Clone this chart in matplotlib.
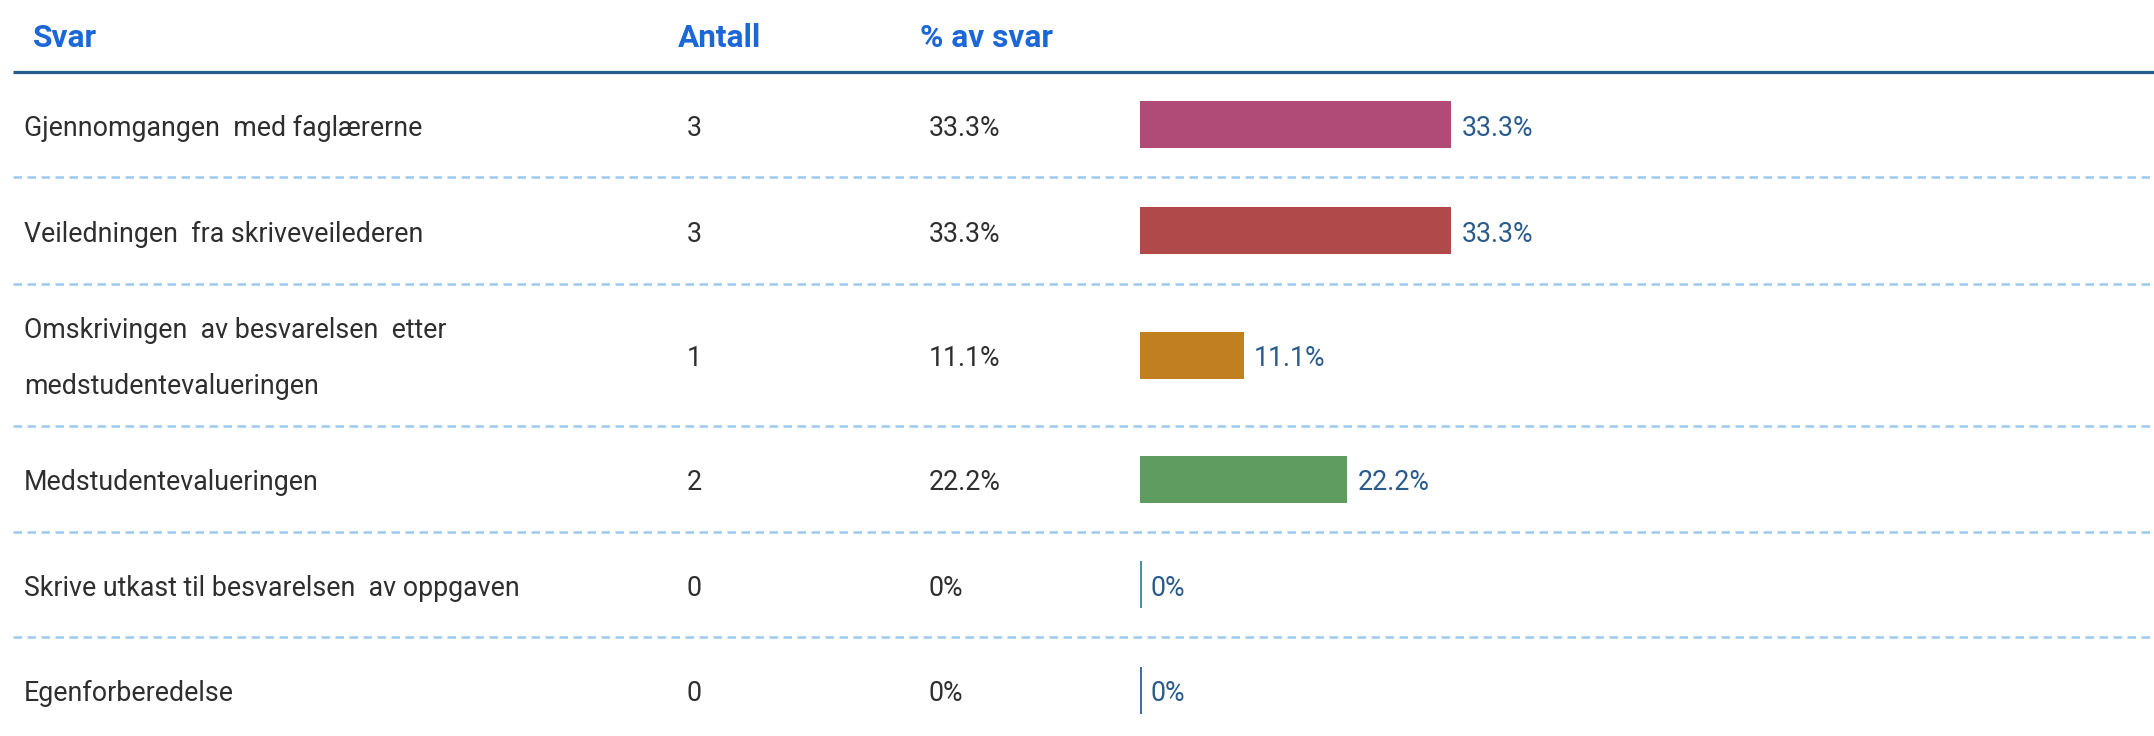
import matplotlib
matplotlib.use('Agg')
import matplotlib.pyplot as plt


# Data
answers = [
    'Gjennomgangen  med faglærerne',
    'Veiledningen  fra skriveveilederen',
    'Omskrivingen  av besvarelsen  etter\nmedstudentevalueringen',
    'Medstudentevalueringen',
    'Skrive utkast til besvarelsen  av oppgaven',
    'Egenforberedelse',
]
counts = [3, 3, 1, 2, 0, 0]
percents = [33.3, 33.3, 11.1, 22.2, 0, 0]
percent_labels = ['33.3%', '33.3%', '11.1%', '22.2%', '0%', '0%']
headers = ['Svar', 'Antall', '% av svar']

# Styling
bar_colors = ['#b04b78', '#b04a4a', '#c0801f', '#5f9c5f', '#3d8eb3', '#3b6aa9']
header_color = '#1c67d8'
rule_color = '#255a8e'
dash_color = '#9fcaf0'
text_color = '#2e2e2e'
value_color = '#2a5b8c'

W, H = 2154, 736
row_heights = [105, 107, 142, 106, 105, 106]
top = 72
bar_h = 47
bar_left = 1140
px_per_pct = 9.34
fs = 19.3
line_gap = 57

plt.rcParams['font.family'] = ['Roboto', 'DejaVu Sans']

fig = plt.figure(figsize=(W / 100, H / 100), dpi=100)
ax = fig.add_axes([0, 0, 1, 1])
ax.set_xlim(0, W)
ax.set_ylim(H, 0)
ax.axis('off')

# header
for txt, x in zip(headers, [33, 678, 920]):
    ax.text(x, 47, txt, fontsize=22.8, fontweight='bold', color=header_color,
            va='baseline', ha='left')
ax.plot([13, W], [72, 72], color=rule_color, lw=2.3, solid_capstyle='butt')

# row positions
centers = []
y = top
for rh in row_heights:
    centers.append(y + rh / 2)
    y += rh
    if y < H:
        ax.plot([13, W], [y, y], color=dash_color, lw=1.8,
                dashes=(3.4, 2.2))

for i, c in enumerate(centers):
    base = c + 11
    lines = answers[i].split('\n')
    first = base - line_gap * (len(lines) - 1) / 2
    for k, line in enumerate(lines):
        ax.text(24, first + k * line_gap, line, fontsize=fs, color=text_color,
                va='baseline', ha='left')
    ax.text(687, base, str(counts[i]), fontsize=fs, color=text_color,
            va='baseline', ha='left')
    ax.text(929, base, percent_labels[i], fontsize=fs, color=text_color,
            va='baseline', ha='left')

# bars in their own axes, x in percent
bax = fig.add_axes([bar_left / W, 0, 100 * px_per_pct / W, 1])
bax.set_xlim(0, 100)
bax.set_ylim(H, 0)
bax.axis('off')
for i, (p, c) in enumerate(zip(percents, centers)):
    if p > 0:
        bax.barh(c, p, height=bar_h, color=bar_colors[i], edgecolor='none')
    else:
        bax.vlines(0.08, c - bar_h / 2, c + bar_h / 2, color=bar_colors[i], lw=1.4)
    bax.text(p + 1.1, c + 11, percent_labels[i], fontsize=fs, color=value_color,
             va='baseline', ha='left')

fig.savefig('out.png', dpi=100)
